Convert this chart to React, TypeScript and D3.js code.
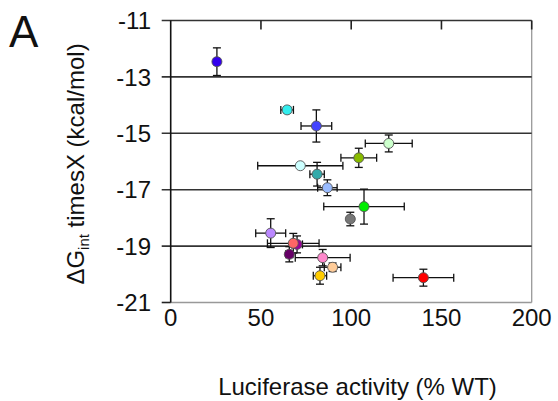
import React from "react";
import * as d3 from "d3";

// activity (% WT), x error, dG (kcal/mol), y error, fill
const activity = [25.6, 64.5, 80.7, 120.8, 104.2, 71.8, 81.1, 86.8, 107.1, 99.5, 55.4, 70.0, 67.9, 65.7, 84.2, 89.7, 82.7, 140.0];
const activityErr = [1.5, 3.5, 8.5, 13, 9.9, 23.6, 4, 5.4, 22.3, 1.5, 8.3, 3, 14.3, 2, 15.2, 4.6, 3.7, 16.8];
const dG = [-12.46, -14.17, -14.74, -15.36, -15.87, -16.15, -16.45, -16.93, -17.6, -18.04, -18.54, -18.94, -18.9, -19.29, -19.41, -19.75, -20.05, -20.12];
const dGErr = [0.49, 0.1, 0.57, 0.3, 0.34, 0.05, 0.42, 0.28, 0.62, 0.24, 0.51, 0.3, 0.35, 0.27, 0.29, 0.15, 0.3, 0.3];
const colors = ["#3300ee", "#33eeee", "#4444ff", "#ccffcc", "#88bb00", "#ccffff", "#33aaaa", "#99bbff", "#00ee00", "#777777", "#bb88ff", "#990099", "#ff6666", "#660066", "#ff88cc", "#ffcc99", "#ffcc00", "#ff0000"];

const xTicks = [0, 50, 100, 150, 200];
const yTicks = [-11, -13, -15, -17, -19, -21];

const font = "Arial, 'Liberation Sans', sans-serif";

const App = () => {
  const x = d3.scaleLinear().domain([0, 200]).range([170.7, 531.7]);
  const y = d3.scaleLinear().domain([-21, -11]).range([302.5, 20.5]);
  const cap = 4;

  let points = activity.map((a, i) => ({
    a: a,
    ae: activityErr[i],
    g: dG[i],
    ge: dGErr[i],
    c: colors[i],
  }));

  return (
    <svg
      width={558}
      height={401}
      style={{ position: "absolute", left: 0, top: 0, background: "#fff" }}
      fontFamily={font}
    >
      <text x={9} y={47} fontSize={44} fill="#111">
        A
      </text>

      {/* frame */}
      <line x1={x(200)} x2={x(200)} y1={y(-11)} y2={y(-21)} stroke="#999" strokeWidth={1.3} />
      <line x1={x(0)} x2={x(200)} y1={y(-21)} y2={y(-21)} stroke="#999" strokeWidth={1.3} />

      {/* grid lines + y ticks */}
      {yTicks.map((t) => (
        <g key={t}>
          {t !== -21 && (
            <line x1={x(0) - 9} x2={x(200)} y1={y(t)} y2={y(t)} stroke="#333" strokeWidth={1.6} />
          )}
          {t === -21 && (
            <line x1={x(0) - 9} x2={x(0)} y1={y(t)} y2={y(t)} stroke="#222" strokeWidth={1.6} />
          )}
          <text x={151} y={y(t) + 8.6} fontSize={24} textAnchor="end" fill="#111">
            {t}
          </text>
        </g>
      ))}

      {/* x axis at top, ticks pointing down */}
      {xTicks.map((t) => (
        <g key={t}>
          {t > 0 && (
            <line x1={x(t)} x2={x(t)} y1={y(-11)} y2={y(-11) + 9} stroke="#222" strokeWidth={1.6} />
          )}
          <text x={x(t)} y={326} fontSize={24} textAnchor="middle" fill="#111">
            {t}
          </text>
        </g>
      ))}
      <line x1={x(0)} x2={x(0)} y1={y(-11)} y2={y(-21)} stroke="#111" strokeWidth={1.6} />

      {/* error bars */}
      {points.map((p, i) => (
        <g key={"e" + i} stroke="#111" strokeWidth={1.3}>
          <line x1={x(p.a - p.ae)} x2={x(p.a + p.ae)} y1={y(p.g)} y2={y(p.g)} />
          <line x1={x(p.a - p.ae)} x2={x(p.a - p.ae)} y1={y(p.g) - cap} y2={y(p.g) + cap} />
          <line x1={x(p.a + p.ae)} x2={x(p.a + p.ae)} y1={y(p.g) - cap} y2={y(p.g) + cap} />
          <line x1={x(p.a)} x2={x(p.a)} y1={y(p.g - p.ge)} y2={y(p.g + p.ge)} />
          <line x1={x(p.a) - cap} x2={x(p.a) + cap} y1={y(p.g - p.ge)} y2={y(p.g - p.ge)} />
          <line x1={x(p.a) - cap} x2={x(p.a) + cap} y1={y(p.g + p.ge)} y2={y(p.g + p.ge)} />
        </g>
      ))}

      {/* markers */}
      {points.map((p, i) => (
        <circle key={"m" + i} cx={x(p.a)} cy={y(p.g)} r={5} fill={p.c} stroke="#555" strokeWidth={0.9} />
      ))}

      <text x={357.5} y={395} fontSize={24} textAnchor="middle" fill="#111">
        Luciferase activity (% WT)
      </text>

      <text transform="translate(84,164) rotate(-90)" fontSize={24} textAnchor="middle" fill="#111">
        ΔG
        <tspan fontSize={15} dy={5}>int</tspan>
        <tspan dy={-5}> timesX (kcal/mol)</tspan>
      </text>
    </svg>
  );
};

export default App;
